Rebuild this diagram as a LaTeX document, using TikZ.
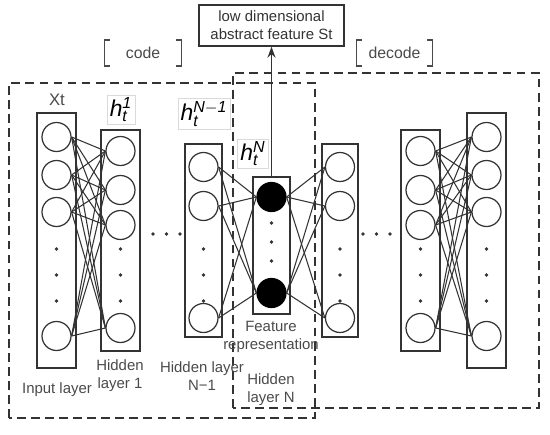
\documentclass[tikz,border=0pt]{standalone}
\usepackage{fontspec}
\setmainfont{Liberation Sans}
\usetikzlibrary{arrows.meta,positioning,calc}
\definecolor{ink}{HTML}{333333}
\definecolor{txt}{HTML}{4A4A4A}
\definecolor{faint}{HTML}{DADADA}
\tikzset{
  layer/.style={draw=ink,line width=0.9pt,inner sep=0pt},
  neuron/.style={circle,draw=ink,line width=0.7pt,minimum size=0.58cm,inner sep=0pt},
  feat/.style={neuron,fill=black,draw=black},
  link/.style={draw=ink,line width=0.6pt},
  dot/.style={circle,fill=ink,inner sep=0pt,minimum size=2.2pt},
  frame/.style={draw=ink,dash pattern=on 5pt off 3pt,line width=0.9pt},
  arr/.style={-{Stealth[length=2.2mm,width=1.6mm]},draw=ink,line width=0.8pt},
  note/.style={font=\fontsize{8.5}{10.3}\selectfont,align=center,text=txt},
  hlab/.style={draw=faint,font=\fontsize{13}{15}\selectfont,inner sep=1.5pt},
  brk/.style={font=\fontsize{9}{11}\selectfont,text=txt,minimum width=1.52cm,minimum height=0.5cm},
  brkline/.style={draw=txt,line width=0.8pt}
}

\begin{document}
\begin{tikzpicture}[x=1cm,y=1cm]
  \useasboundingbox (0,0) rectangle (11,8.68);

  % code / decode frames
  \draw[frame] (0.18,0.32) rectangle (6.30,7.02);
  \draw[frame] (4.66,0.52) rectangle (10.78,7.22);

  % layers
  \node[layer,minimum width=0.78cm,minimum height=5.1cm] (inl) at (1.13,3.87) {};
  \node[layer,minimum width=0.78cm,minimum height=4.42cm] (h1l) at (2.41,3.87) {};
  \node[layer,minimum width=0.74cm,minimum height=3.86cm] (hml) at (4.07,3.87) {};
  \node[layer,minimum width=0.74cm,minimum height=2.74cm] (hnl) at (5.43,3.77) {};
  \node[layer,minimum width=0.72cm,minimum height=3.86cm] (d1l) at (6.80,3.87) {};
  \node[layer,minimum width=0.78cm,minimum height=4.42cm] (d2l) at (8.41,3.87) {};
  \node[layer,minimum width=0.78cm,minimum height=5.1cm] (outl) at (9.73,3.87) {};

  % neurons
  \foreach \y [count=\i] in {5.94,5.18,4.44,1.96}
    \node[neuron] (a\i) at (1.13,\y) {};
  \foreach \y [count=\i] in {5.66,4.88,4.18,2.12}
    \node[neuron] (b\i) at (2.41,\y) {};
  \foreach \y [count=\i] in {5.34,4.56,2.32}
    \node[neuron] (c\i) at (4.07,\y) {};
  \foreach \y [count=\i] in {4.74,2.82}
    \node[feat] (f\i) at (5.43,\y) {};
  \foreach \y [count=\i] in {5.34,4.56,2.32}
    \node[neuron] (d\i) at (6.80,\y) {};
  \foreach \y [count=\i] in {5.66,4.88,4.18,2.12}
    \node[neuron] (e\i) at (8.41,\y) {};
  \foreach \y [count=\i] in {5.94,5.18,4.44,1.96}
    \node[neuron] (g\i) at (9.73,\y) {};

  % vertical dots
  \foreach \x/\l in {1.13/a,2.41/b,4.07/c,6.80/d,8.41/e,9.73/g}
    \foreach \y [count=\i] in {3.70,3.18,2.66}
      \node[dot] (\l dot\i) at (\x,\y) {};
  \foreach \y [count=\i] in {4.22,3.84,3.46}
    \node[dot] (fdot\i) at (5.43,\y) {};

  % horizontal dots
  \foreach \x [count=\i] in {3.06,3.33,3.60}
    \node[dot] (lgap\i) at (\x,4.0) {};
  \foreach \x [count=\i] in {7.26,7.53,7.80}
    \node[dot] (rgap\i) at (\x,4.0) {};

  % connections
  \foreach \i in {1,...,4}
    \foreach \j in {1,...,4} {
      \draw[link] (a\i.east) -- (b\j.west);
      \draw[link] (e\i.east) -- (g\j.west);
    }
  \foreach \i in {1,2,3}
    \foreach \j in {1,2} {
      \draw[link] (c\i.east) -- (f\j.west);
      \draw[link] (f\j.east) -- (d\i.west);
    }

  % output feature
  \node[draw=ink,line width=0.9pt,minimum width=2.9cm,minimum height=0.78cm,
    note,text=ink] (st) at (5.43,8.17) {low dimensional\\abstract feature St};
  \draw[arr] (hnl.north) -- (st.south);

  % brackets
  \node[brk] (code) at (2.86,7.62) {code};
  \node[brk,minimum width=1.5cm] (decode) at (7.89,7.62) {decode};
  \foreach \n in {code,decode} {
    \draw[brkline] ($(\n.north west)+(0.1,0)$) -- (\n.north west)
      -- (\n.south west) -- ++(0.1,0);
    \draw[brkline] ($(\n.north east)+(-0.1,0)$) -- (\n.north east)
      -- (\n.south east) -- ++(-0.1,0);
  }

  % layer names
  \node[note,font=\fontsize{9.5}{11}\selectfont] (xt) at (1.14,6.68) {Xt};
  \node[hlab] (h1) at (2.42,6.48) {$\mathit{h}_{\mathit{t}}^{\mathit{1}}$};
  \node[hlab] (hm) at (4.08,6.40) {$\mathit{h}_{\mathit{t}}^{\mathit{N}-\mathit{1}}$};
  \node[hlab] (hn) at (5.06,5.60) {$\mathit{h}_{\mathit{t}}^{\mathit{N}}$};

  \node[note] (lin) at (1.14,0.88) {Input layer};
  \node[note] (lh1) at (2.40,1.16) {Hidden\\layer 1};
  \node[note] (lhm) at (4.04,1.16) {Hidden layer\\N−1};
  \node[note] (lfeat) at (5.42,1.94) {Feature\\representation};
  \node[note] (lhn) at (5.42,0.88) {Hidden\\layer N};
\end{tikzpicture}
\end{document}
